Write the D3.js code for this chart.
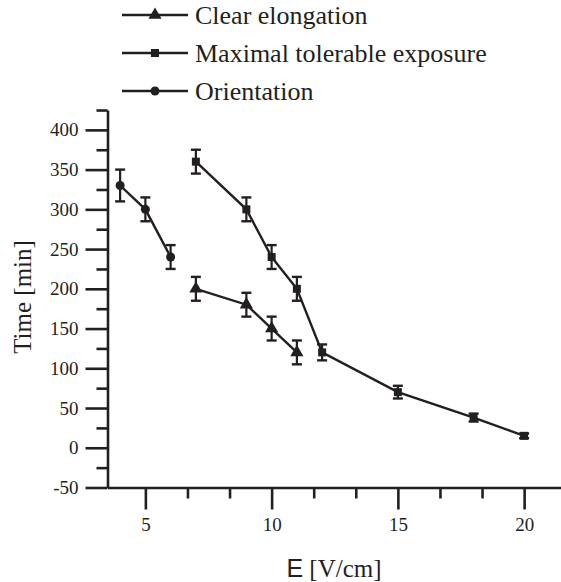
<!DOCTYPE html>
<html>
<head>
<meta charset="utf-8">
<script src="https://cdn.jsdelivr.net/npm/d3@7"></script>
<style>
  body { margin: 0; background: #fff; }
  svg { display: block; }
</style>
</head>
<body>
<div id="chart"></div>
<script>
// data
var seriesNames = ["Clear elongation", "Maximal tolerable exposure", "Orientation"];

var elongE = [7, 9, 10, 11];
var elongT = [200, 180, 150, 120];
var elongErr = [15, 15, 15, 15];

var maxE = [7, 9, 10, 11, 12, 15, 18, 20];
var maxT = [360, 300, 240, 200, 120, 70, 38, 15];
var maxErr = [15, 15, 15, 15, 10, 8, 5, 3];

var orientE = [4, 5, 6];
var orientT = [330, 300, 240];
var orientErr = [20, 15, 15];

var yMajorTicks = [-50, 0, 50, 100, 150, 200, 250, 300, 350, 400];
var xMajorTicks = [5, 10, 15, 20];

var ink = "#231f20";
var W = 561, H = 582;

var svg = d3.select("#chart")
    .append("svg")
    .attr("width", W)
    .attr("height", H);

var x = d3.scaleLinear()
    .domain([3.5, 21.5])
    .range([107.5, 562]);
var y = d3.scaleLinear()
    .domain([-50, 425])
    .range([487.5, 110]);

// minor ticks
var yMinor = d3.range(-25, 426, 50);
var xMinor = [];
for (var i = 0; i < xMajorTicks.length; i++) {
    xMinor.push(xMajorTicks[i] + 5 / 3, xMajorTicks[i] + 10 / 3);
}
xMinor = xMinor.filter(function(v) { return v < 21.5; });

var serif = "Liberation Serif, Times New Roman, serif";
var plain = function(d) { return String(d); };

// y axis
svg.append("g")
    .attr("transform", "translate(" + x(3.5) + ",0)")
    .call(d3.axisLeft(y).tickValues(yMajorTicks).tickSize(22).tickSizeOuter(0).tickPadding(7).tickFormat(plain));
svg.append("g")
    .attr("transform", "translate(" + x(3.5) + ",0)")
    .call(d3.axisLeft(y).tickValues(yMinor).tickSize(11).tickSizeOuter(0).tickFormat(""))
    .select(".domain").remove();

// x axis
svg.append("g")
    .attr("transform", "translate(0," + y(-50) + ")")
    .call(d3.axisBottom(x).tickValues(xMajorTicks).tickSize(22).tickSizeOuter(0).tickPadding(8).tickFormat(plain));
svg.append("g")
    .attr("transform", "translate(0," + y(-50) + ")")
    .call(d3.axisBottom(x).tickValues(xMinor).tickSize(11).tickSizeOuter(0).tickFormat(""))
    .select(".domain").remove();

svg.selectAll("g").attr("font-family", serif);
svg.selectAll(".domain, .tick line")
    .attr("stroke", ink)
    .attr("stroke-width", 2.6);
svg.selectAll(".tick text")
    .attr("fill", ink)
    .attr("font-family", serif)
    .attr("font-size", 19);

// axis titles
svg.append("text")
    .attr("transform", "translate(31,297) rotate(-90)")
    .attr("text-anchor", "middle")
    .attr("font-family", serif)
    .attr("font-size", 25)
    .attr("fill", ink)
    .text("Time [min]");

var xt = svg.append("text")
    .attr("x", 334)
    .attr("y", 577)
    .attr("text-anchor", "middle")
    .attr("font-family", serif)
    .attr("font-size", 25)
    .attr("fill", ink);
xt.append("tspan")
    .attr("font-family", "Liberation Sans, Arial, sans-serif")
    .text("E");
xt.append("tspan").text(" [V/cm]");

// series
var series = [
    { e: elongE, t: elongT, err: elongErr, sym: d3.symbolTriangle, size: 75 },
    { e: maxE, t: maxT, err: maxErr, sym: d3.symbolSquare, size: 64 },
    { e: orientE, t: orientT, err: orientErr, sym: d3.symbolCircle, size: 64 }
];

var line = d3.line()
    .x(function(d) { return x(d[0]); })
    .y(function(d) { return y(d[1]); });

series.forEach(function(s) {
    var pts = s.e.map(function(v, j) { return [v, s.t[j], s.err[j]]; });
    var g = svg.append("g");
    g.append("path")
        .datum(pts)
        .attr("d", line)
        .attr("fill", "none")
        .attr("stroke", ink)
        .attr("stroke-width", 2.4);
    // error bars
    var eb = g.selectAll(".err").data(pts).enter().append("g");
    eb.append("line")
        .attr("x1", function(d) { return x(d[0]); })
        .attr("x2", function(d) { return x(d[0]); })
        .attr("y1", function(d) { return y(d[1] - d[2]); })
        .attr("y2", function(d) { return y(d[1] + d[2]); })
        .attr("stroke", ink).attr("stroke-width", 2.2);
    [-1, 1].forEach(function(sg) {
        eb.append("line")
            .attr("x1", function(d) { return x(d[0]) - 5; })
            .attr("x2", function(d) { return x(d[0]) + 5; })
            .attr("y1", function(d) { return y(d[1] + sg * d[2]); })
            .attr("y2", function(d) { return y(d[1] + sg * d[2]); })
            .attr("stroke", ink).attr("stroke-width", 2.4);
    });
    g.selectAll(".mk").data(pts).enter().append("path")
        .attr("transform", function(d) { return "translate(" + x(d[0]) + "," + y(d[1]) + ")"; })
        .attr("d", d3.symbol().type(s.sym).size(s.size))
        .attr("fill", ink);
});

// legend
var legendY = [15, 53, 91];
var leg = svg.append("g");
series.forEach(function(s, k) {
    var ly = legendY[k];
    leg.append("line")
        .attr("x1", 122).attr("x2", 188)
        .attr("y1", ly).attr("y2", ly)
        .attr("stroke", ink).attr("stroke-width", 2.4);
    leg.append("path")
        .attr("transform", "translate(155," + ly + ")")
        .attr("d", d3.symbol().type(s.sym).size(s.size))
        .attr("fill", ink);
    leg.append("text")
        .attr("x", 195)
        .attr("y", ly + 9)
        .attr("font-family", serif)
        .attr("font-size", 26)
        .attr("fill", ink)
        .text(seriesNames[k]);
});
</script>
</body>
</html>
